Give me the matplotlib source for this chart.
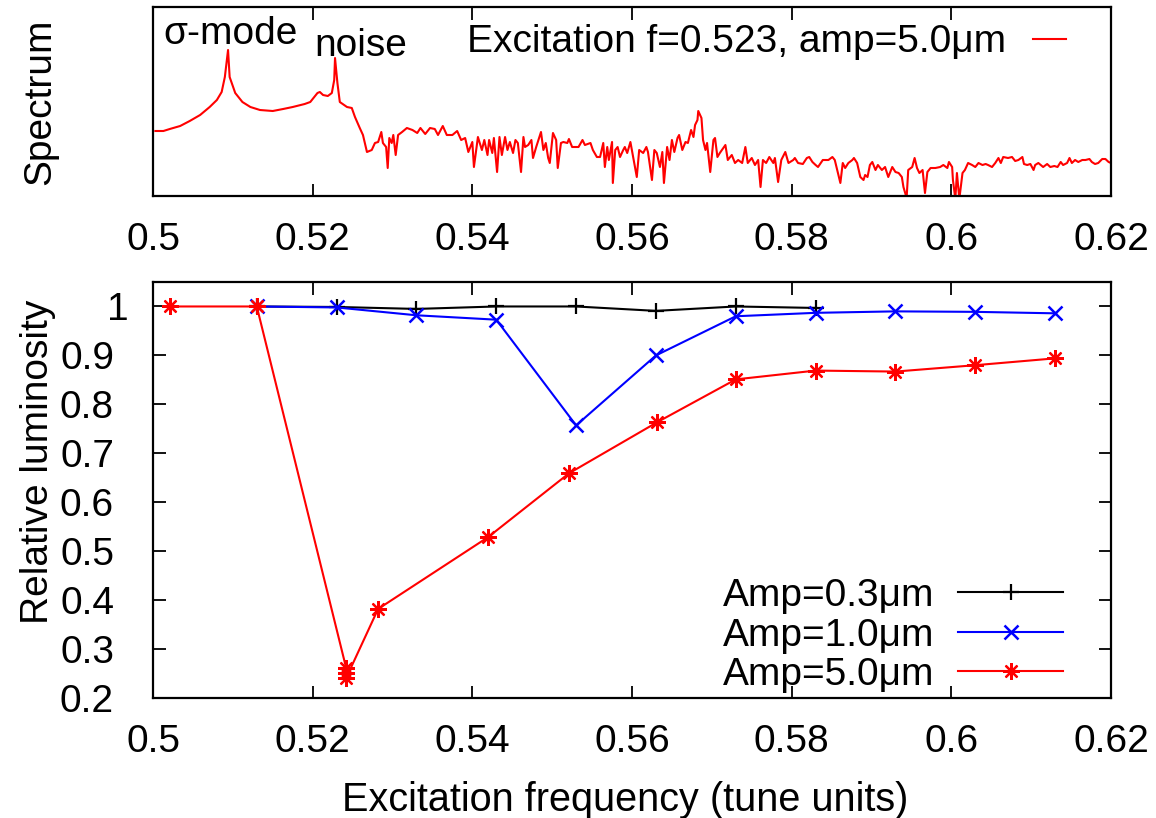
import matplotlib
matplotlib.use("Agg")
import matplotlib.pyplot as plt
from matplotlib.transforms import ScaledTranslation

plt.rcParams['font.family'] = ['Liberation Sans', 'DejaVu Sans']

# ---- Spectrum (top panel), arbitrary units ----
spec_f = [0.5003, 0.5013, 0.5021, 0.5034, 0.5046, 0.5059, 0.5071, 0.5080, 0.5086, 0.5090,
          0.5094, 0.5096, 0.5103, 0.5112, 0.5122, 0.5134, 0.5150, 0.5163, 0.5175, 0.5190,
          0.5197, 0.5206, 0.5209, 0.5213, 0.5219, 0.5224, 0.5227, 0.5228, 0.5231, 0.5234,
          0.5243, 0.5249, 0.5253, 0.5259, 0.5263, 0.5268, 0.5274, 0.5278, 0.5282, 0.5286,
          0.5288, 0.5292, 0.5294, 0.5296, 0.5299, 0.5301, 0.5304, 0.5307, 0.5312, 0.5318,
          0.5325, 0.5331, 0.5335, 0.5341, 0.5347, 0.5353, 0.5357, 0.5363, 0.5368, 0.5375,
          0.5381, 0.5386, 0.5391, 0.5395, 0.5400, 0.5402, 0.5407, 0.5412, 0.5415, 0.5419,
          0.5421, 0.5425, 0.5427, 0.5431, 0.5434, 0.5437, 0.5441, 0.5444, 0.5447, 0.5451,
          0.5454, 0.5457, 0.5461, 0.5464, 0.5466, 0.5470, 0.5474, 0.5476, 0.5480, 0.5482,
          0.5486, 0.5489, 0.5492, 0.5495, 0.5497, 0.5501, 0.5505, 0.5507, 0.5511, 0.5514,
          0.5519, 0.5521, 0.5525, 0.5529, 0.5533, 0.5538, 0.5541, 0.5548, 0.5551, 0.5556,
          0.5560, 0.5564, 0.5566, 0.5569, 0.5571, 0.5575, 0.5576, 0.5579, 0.5582, 0.5585,
          0.5589, 0.5591, 0.5594, 0.5598, 0.5601, 0.5606, 0.5609, 0.5614, 0.5618, 0.5620,
          0.5625, 0.5628, 0.5631, 0.5635, 0.5638, 0.5640, 0.5644, 0.5647, 0.5650, 0.5653,
          0.5657, 0.5659, 0.5663, 0.5667, 0.5670, 0.5674, 0.5677, 0.5679, 0.5682, 0.5683,
          0.5687, 0.5689, 0.5692, 0.5694, 0.5698, 0.5702, 0.5704, 0.5707, 0.5710, 0.5717,
          0.5720, 0.5725, 0.5729, 0.5733, 0.5738, 0.5742, 0.5745, 0.5750, 0.5754, 0.5758,
          0.5761, 0.5764, 0.5768, 0.5772, 0.5777, 0.5779, 0.5783, 0.5787, 0.5792, 0.5796,
          0.5802, 0.5804, 0.5808, 0.5814, 0.5819, 0.5822, 0.5826, 0.5830, 0.5833, 0.5839,
          0.5846, 0.5851, 0.5854, 0.5857, 0.5861, 0.5864, 0.5867, 0.5871, 0.5876, 0.5878,
          0.5882, 0.5886, 0.5890, 0.5892, 0.5895, 0.5898, 0.5901, 0.5905, 0.5908, 0.5913,
          0.5917, 0.5921, 0.5926, 0.5930, 0.5934, 0.5938, 0.5940, 0.5944, 0.5946, 0.5951,
          0.5954, 0.5957, 0.5960, 0.5964, 0.5967, 0.5970, 0.5974, 0.5980, 0.5986, 0.5990,
          0.5995, 0.5997, 0.6001, 0.6002, 0.6005, 0.6007, 0.6010, 0.6014, 0.6017, 0.6021,
          0.6026, 0.6030, 0.6034, 0.6039, 0.6043, 0.6046, 0.6051, 0.6055, 0.6059, 0.6062,
          0.6065, 0.6071, 0.6076, 0.6080, 0.6084, 0.6089, 0.6091, 0.6095, 0.6099, 0.6103,
          0.6105, 0.6109, 0.6115, 0.6120, 0.6124, 0.6129, 0.6133, 0.6137, 0.6140, 0.6145,
          0.6148, 0.6151, 0.6155, 0.6159, 0.6164, 0.6168, 0.6173, 0.6176, 0.6180, 0.6184,
          0.6189, 0.6193, 0.6197, 0.6200]
spec_a = [65, 65, 67, 70, 75, 81, 89, 96, 104, 119,
          146, 119, 103, 94, 89, 86, 85, 87, 89, 92,
          94, 103, 104, 101, 100, 103, 116, 138, 113, 94,
          89, 88, 79, 68, 61, 44, 46, 53, 54, 64,
          53, 49, 28, 58, 53, 61, 41, 61, 64, 68,
          66, 63, 68, 62, 68, 67, 61, 70, 61, 61,
          65, 56, 58, 44, 54, 29, 59, 46, 56, 41,
          56, 43, 58, 24, 59, 41, 59, 46, 54, 43,
          56, 53, 24, 59, 49, 51, 56, 38, 49, 54,
          64, 46, 53, 38, 33, 63, 56, 28, 53, 54,
          53, 57, 49, 49, 49, 56, 51, 53, 46, 39,
          39, 53, 29, 49, 36, 54, 13, 46, 49, 39,
          46, 49, 43, 54, 41, 19, 46, 43, 49, 44,
          16, 46, 43, 29, 44, 13, 49, 36, 56, 44,
          58, 61, 46, 54, 53, 66, 59, 71, 76, 85,
          78, 56, 46, 53, 24, 56, 58, 39, 43, 51,
          36, 41, 33, 36, 33, 49, 33, 38, 31, 36,
          9, 36, 33, 39, 33, 38, 14, 36, 44, 33,
          36, 38, 33, 32, 38, 39, 34, 31, 29, 36,
          36, 39, 36, 26, 13, 33, 28, 33, 36, 38,
          33, 19, 16, 21, 19, 31, 34, 26, 31, 26,
          29, 19, 29, 24, 23, 19, 9, -2, 26, 29,
          38, 28, 23, 26, 3, 24, 28, 28, 29, 31,
          28, 34, 29, 16, -3, 23, -3, 23, 26, 33,
          31, 29, 33, 31, 32, 31, 29, 33, 38, 33,
          39, 38, 39, 35, 36, 39, 32, 31, 32, 26,
          31, 33, 29, 32, 29, 30, 29, 34, 31, 33,
          38, 33, 36, 34, 36, 36, 37, 34, 32, 33,
          37, 37, 34, 33]

# ---- Luminosity (bottom panel) ----
f_03 = [0.513, 0.523, 0.533, 0.543, 0.553, 0.563, 0.573, 0.583]
lum_03 = [1.000, 0.999, 0.995, 1.000, 1.000, 0.991, 1.000, 0.997]

f_10 = [0.513, 0.523, 0.533, 0.543, 0.553, 0.563, 0.573, 0.583, 0.593, 0.603, 0.613]
lum_10 = [1.000, 0.998, 0.982, 0.973, 0.757, 0.900, 0.980, 0.987, 0.990, 0.989, 0.986]

f_50 = [0.5021, 0.513, 0.5242, 0.5242, 0.5242, 0.5282, 0.542, 0.5521, 0.5631, 0.573,
        0.583, 0.593, 0.603, 0.613]
lum_50 = [1.000, 1.000, 0.261, 0.251, 0.241, 0.382, 0.529, 0.659, 0.763, 0.851,
          0.869, 0.867, 0.880, 0.894]

xticks = [0.5, 0.52, 0.54, 0.56, 0.58, 0.6, 0.62]
xticklabels = ['0.5', '0.52', '0.54', '0.56', '0.58', '0.6', '0.62']
yticks = [0.2, 0.3, 0.4, 0.5, 0.6, 0.7, 0.8, 0.9, 1.0]
yticklabels = ['0.2', '0.3', '0.4', '0.5', '0.6', '0.7', '0.8', '0.9', '1']

FS = 28
W, H = 1156, 818
fig = plt.figure(figsize=(W / 100, H / 100), dpi=100)

left = 153 / W
width = (1111 - 153) / W
ax1 = fig.add_axes([left, 1 - 196 / H, width, (196 - 7) / H])
ax2 = fig.add_axes([left, 1 - 698 / H, width, (698 - 282) / H])

for ax in (ax1, ax2):
    for s in ax.spines.values():
        s.set_linewidth(1.6)
    ax.set_xlim(0.5, 0.62)
    ax.set_xticks(xticks)
    ax.set_xticklabels(xticklabels)
    ax.tick_params(axis='both', direction='in', length=9, width=1.3,
                   labelsize=FS, top=True, right=True)
    ax.tick_params(axis='x', pad=18.5)
    ax.tick_params(axis='y', pad=28)

# top panel
ax1.plot(spec_f, spec_a, color='red', lw=1.5, label='Excitation f=0.523, amp=5.0μm')
ax1.set_ylim(0, 189)
ax1.set_yticks([])
ax1.set_ylabel('Spectrum', fontsize=FS)
ax1.yaxis.set_label_coords(-0.099, 0.5)
ax1.text(0.50125, 162, 'σ-mode', fontsize=FS, va='center', ha='left')
ax1.text(0.5202, 150, 'noise', fontsize=FS, va='center', ha='left')
ax1.legend(loc='upper right', frameon=False, fontsize=FS, markerfirst=False,
           handlelength=0.85, handletextpad=0.7, borderpad=0, borderaxespad=0,
           bbox_to_anchor=(0.953, 0.908))

# bottom panel
ax2.plot(f_03, lum_03, color='black', lw=1.5, marker='+', ms=12, mew=1.6,
         label='Amp=0.3μm')
ax2.plot(f_10, lum_10, color='blue', lw=1.5, marker='x', ms=10, mew=1.8,
         label='Amp=1.0μm')
ax2.plot(f_50, lum_50, color='red', lw=1.5, marker=(8, 2, 0), ms=12, mew=1.6,
         label='Amp=5.0μm')
ax2.set_ylim(0.2, 1.05)
ax2.set_yticks(yticks)
ax2.set_yticklabels(yticklabels)
ax2.set_xlabel('Excitation frequency (tune units)', fontsize=FS + 0.5)
ax2.xaxis.set_label_coords(0.493, -0.2)
ax2.set_ylabel('Relative luminosity', fontsize=FS)
ax2.yaxis.set_label_coords(-0.101, 0.567)
ax2.legend(loc='lower right', frameon=False, fontsize=FS, markerfirst=False,
           handlelength=2.7, handletextpad=0.6, labelspacing=0.09,
           borderpad=0, borderaxespad=0, bbox_to_anchor=(0.95, 0.012))

# the reference draws its "1" label a little further right
lab_one = ax2.yaxis.get_major_ticks()[-1].label1
lab_one.set_transform(lab_one.get_transform() + ScaledTranslation(15 / 100, 0, fig.dpi_scale_trans))

fig.savefig('out.png', dpi=100)
